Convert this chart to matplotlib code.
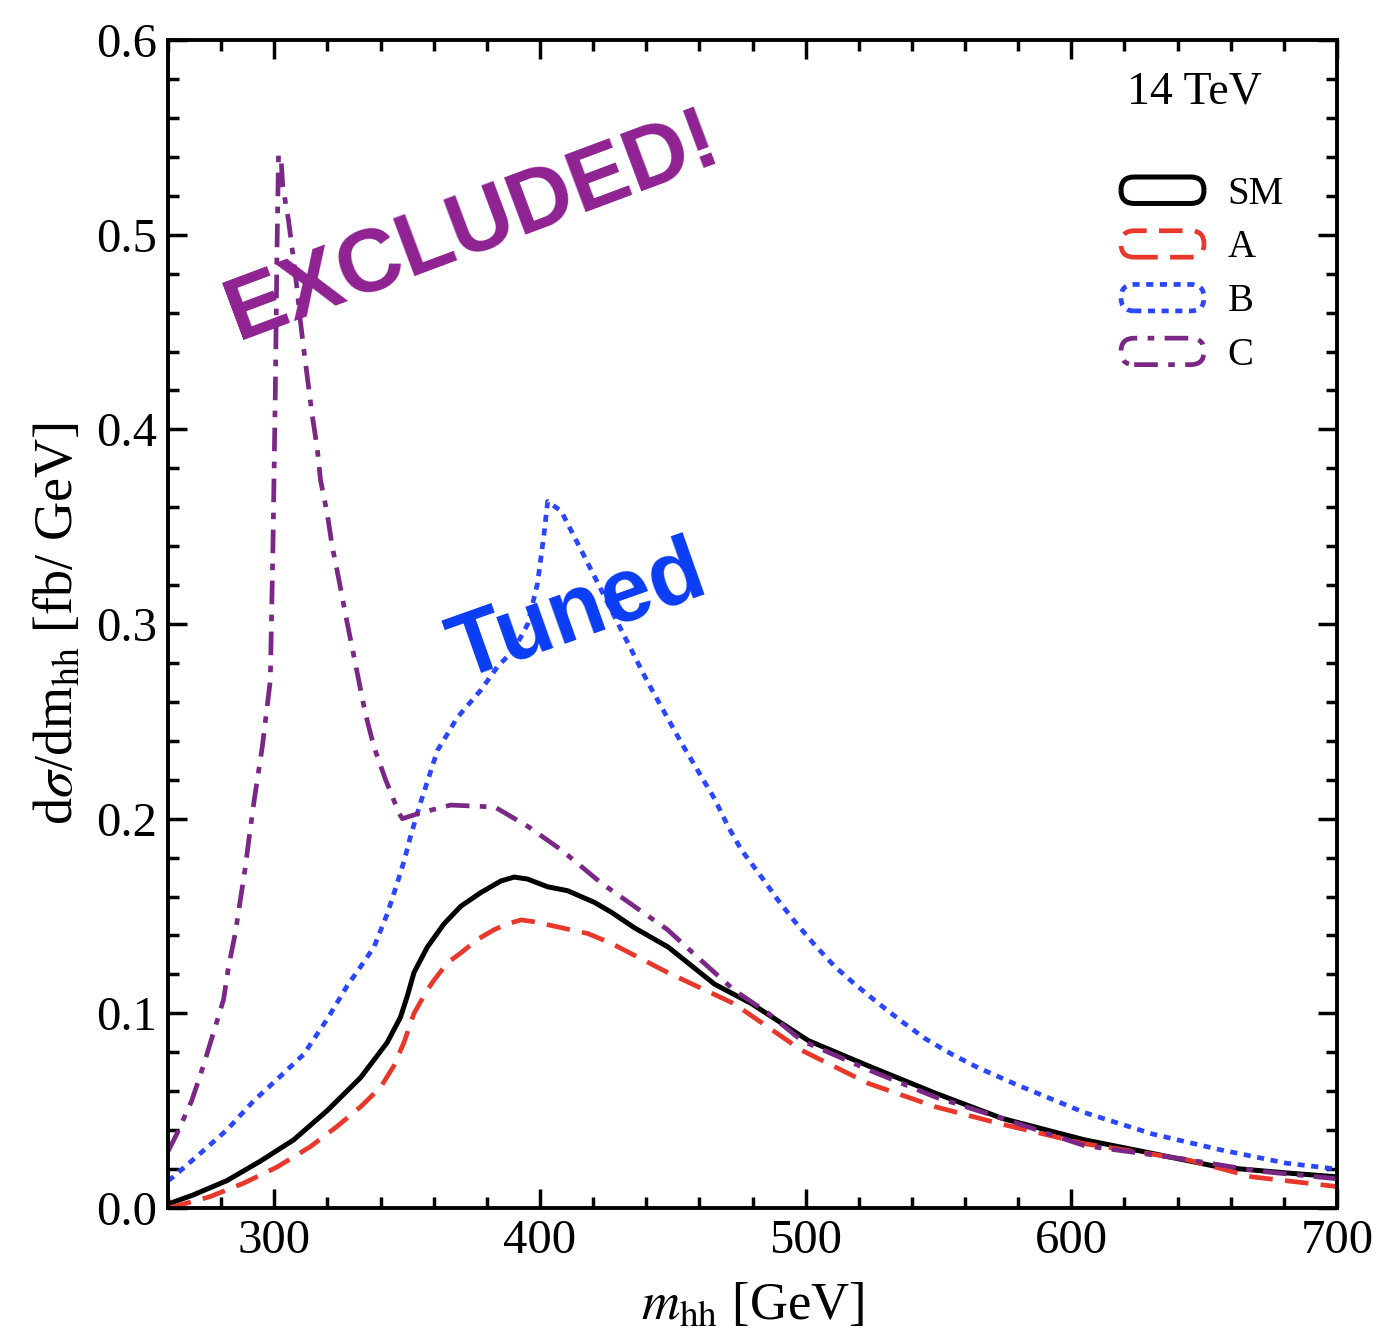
import numpy as np
import matplotlib
matplotlib.use('Agg')
import matplotlib.pyplot as plt
from matplotlib.patches import FancyBboxPatch
from matplotlib.legend_handler import HandlerBase
from matplotlib.ticker import MultipleLocator

# data
m_sm = [260, 260.8, 269.5, 282.1, 294.7, 307.3, 319.9, 332.5, 342.5, 347.5, 350.1, 352.6,
        357.6, 363.9, 370.2, 377.7, 385.3, 390.3, 395.3, 402.9, 410.4, 420.5, 426.8, 435.5,
        448.3, 465.7, 479.6, 501, 523.6, 548.8, 574, 605, 630.6, 655.7, 681, 700]
sm = [0.002, 0.0024, 0.0067, 0.014, 0.024, 0.035, 0.050, 0.067, 0.085, 0.098, 0.109, 0.121,
      0.134, 0.146, 0.155, 0.162, 0.168, 0.170, 0.169, 0.165, 0.163, 0.157, 0.152, 0.144,
      0.134, 0.115, 0.105, 0.086, 0.073, 0.059, 0.046, 0.035, 0.028, 0.021, 0.018, 0.016]

m_a = [260, 264.5, 275.8, 288.4, 301, 313.6, 323.7, 332.5, 340, 345, 348.8, 352.6, 357.6,
       360.1, 365.2, 370.2, 376.5, 382.8, 387.8, 393, 398, 408, 418, 426.8, 448, 473, 498.5,
       523.6, 548.8, 574, 605, 643, 668, 700]
a = [0.0, 0.0015, 0.0058, 0.0127, 0.021, 0.0315, 0.042, 0.052, 0.062, 0.073, 0.085, 0.100,
     0.112, 0.117, 0.126, 0.131, 0.138, 0.143, 0.146, 0.148, 0.147, 0.144, 0.141, 0.136,
     0.121, 0.105, 0.081, 0.064, 0.052, 0.043, 0.033, 0.025, 0.016, 0.011]

m_b = [260, 262, 272.1, 282.1, 292.2, 301, 311.1, 319.9, 327.4, 332.5, 337.5, 342.5, 346.3,
       348.8, 351.3, 355, 361.4, 368.9, 377.7, 384, 390.3, 395.4, 399.1, 401.6, 402.9, 408,
       415.5, 421.8, 428, 440.6, 453.2, 465.8, 470.8, 475.8, 483.4, 489.7, 496, 503.5, 511,
       518.5, 527.5, 536, 545, 555, 565, 580, 605, 630.6, 655.7, 681, 700]
b = [0.014, 0.016, 0.028, 0.040, 0.055, 0.066, 0.079, 0.097, 0.114, 0.124, 0.134, 0.151,
     0.167, 0.178, 0.191, 0.208, 0.235, 0.252, 0.266, 0.278, 0.287, 0.300, 0.321, 0.347,
     0.363, 0.358, 0.338, 0.321, 0.304, 0.270, 0.239, 0.210, 0.196, 0.184, 0.170, 0.158,
     0.147, 0.135, 0.124, 0.115, 0.105, 0.096, 0.087, 0.079, 0.072, 0.063, 0.049, 0.038,
     0.030, 0.023, 0.020]

m_c = [260, 260.7, 263.3, 268.9, 273.3, 277.1, 280.9, 282.8, 285.3, 287.2, 289.1, 290.7,
       292.5, 295.5, 298.5, 299.5, 300.4, 301, 301.6, 302.5, 303.2, 305.4, 307, 308.5, 309.8,
       311.3, 312.9, 314.2, 316.1, 317.4, 319.9, 321.8, 324.3, 326.8, 329.3, 331.8, 334.3,
       337.5, 341.9, 346.9, 348.2, 355, 366.4, 383, 395.5, 408, 423, 435.5, 448, 460.8, 473,
       486, 498.5, 523.6, 548.8, 574, 605, 643, 670, 700]
c = [0.029, 0.031, 0.038, 0.055, 0.073, 0.090, 0.107, 0.124, 0.141, 0.158, 0.175, 0.192,
     0.210, 0.237, 0.271, 0.340, 0.420, 0.490, 0.541, 0.540, 0.525, 0.507, 0.490, 0.473,
     0.456, 0.439, 0.422, 0.408, 0.391, 0.374, 0.357, 0.340, 0.323, 0.305, 0.288, 0.271,
     0.254, 0.237, 0.220, 0.203, 0.200, 0.203, 0.207, 0.206, 0.196, 0.184, 0.167, 0.155,
     0.143, 0.127, 0.112, 0.100, 0.086, 0.071, 0.057, 0.046, 0.032, 0.025, 0.019, 0.015]

labels = ['SM', 'A', 'B', 'C']
dash_a = (0, (5, 2.6))
dash_b = (0, (1.5, 1.4))
dash_c = (0, (5, 2.2, 1.4, 2.2))


class HandlerRound(HandlerBase):
    # Mathematica style rounded-box legend symbol
    def __init__(self, ls):
        HandlerBase.__init__(self)
        self.ls = ls

    def create_artists(self, legend, orig_handle, xdescent, ydescent, width, height,
                       fontsize, trans):
        pad = 3
        p = FancyBboxPatch((-xdescent + pad, -ydescent + pad), width - 2 * pad, height - 2 * pad,
                           boxstyle='round,pad=0,rounding_size=%g' % ((height - 2 * pad) / 2.),
                           fill=False, edgecolor=orig_handle.get_color(),
                           linewidth=orig_handle.get_linewidth(), linestyle=self.ls)
        p.set_transform(trans)
        return [p]


plt.rcParams['font.family'] = ['Liberation Serif', 'DejaVu Serif']
plt.rcParams['mathtext.fontset'] = 'stix'

fig = plt.figure(figsize=(14, 13.37), dpi=100)
ax = fig.add_axes([0.12, 0.0965, 0.835, 0.8735])

kw = dict(solid_joinstyle='round', dash_joinstyle='round')
l1, = ax.plot(m_sm, sm, '-', color='black', lw=3.6, **kw)
l2, = ax.plot(m_a, a, color='#e8382c', lw=3.4, linestyle=dash_a, **kw)
l3, = ax.plot(m_b, b, color='#2a47ff', lw=3.4, linestyle=dash_b, **kw)
l4, = ax.plot(m_c, c, color='#7a2785', lw=3.4, linestyle=dash_c, **kw)

ax.set_xlim(260, 700)
ax.set_ylim(0, 0.6)
ax.xaxis.set_major_locator(MultipleLocator(100))
ax.xaxis.set_minor_locator(MultipleLocator(20))
ax.yaxis.set_major_locator(MultipleLocator(0.1))
ax.yaxis.set_minor_locator(MultipleLocator(0.02))
ax.yaxis.set_major_formatter(plt.FuncFormatter(lambda v, p: '%.1f' % v))
ax.tick_params(which='both', direction='in', top=True, right=True, width=2.5,
               labelsize=35, pad=8)
ax.tick_params(which='major', length=14)
ax.tick_params(which='minor', length=8)
for s in ax.spines.values():
    s.set_linewidth(2.8)

ax.set_xlabel(r'$m_{\rm hh}$ [GeV]', fontsize=38, labelpad=14)
ax.set_ylabel(r'd$\sigma$/dm$_{\rm hh}$ [fb/ GeV]', fontsize=39, labelpad=8)

ax.text(0.82, 0.955, '14 TeV', transform=ax.transAxes, fontsize=33, ha='left', va='center')

leg = ax.legend([l1, l2, l3, l4], labels, loc='upper left', bbox_to_anchor=(0.795, 0.903),
                frameon=False, fontsize=28, handlelength=2.35, handleheight=1.0,
                handletextpad=0.5, labelspacing=0.36, borderpad=0,
                handler_map={l1: HandlerRound('-'), l2: HandlerRound(dash_a),
                             l3: HandlerRound(dash_b), l4: HandlerRound(dash_c)})

ax.text(286.4, 0.446, 'EXCLUDED!', color='#8e2291', fontsize=64, fontweight='bold',
        family='Liberation Sans', rotation=20.5, rotation_mode='anchor',
        ha='left', va='baseline')
ax.text(370.6, 0.271, 'Tuned', color='#0a3cf5', fontsize=65, fontweight='bold',
        family='Liberation Sans', rotation=19.5, rotation_mode='anchor',
        ha='left', va='baseline')

fig.savefig('out.png', dpi=100)
